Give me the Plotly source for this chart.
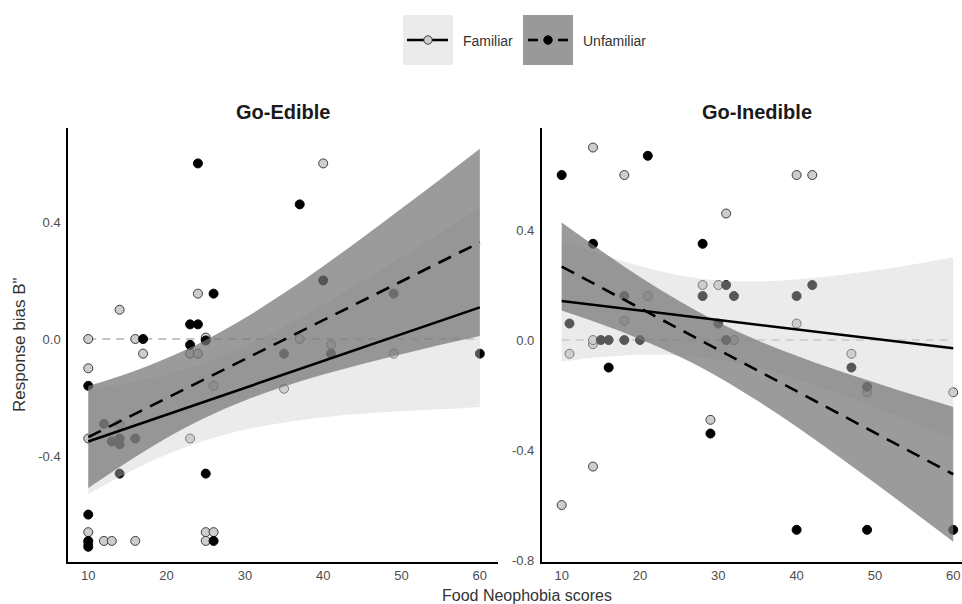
import plotly.graph_objects as go

# ---------------- data ----------------
# Go-Edible panel
edible_fam_x = [10, 16, 25, 14, 24, 17, 23, 24, 10, 26, 35, 14, 10, 23, 10, 10, 12, 13, 16, 25, 26, 25, 40, 37, 41, 49]
edible_fam_y = [0.0, 0.0, 0.005, 0.10, 0.155, -0.05, -0.05, -0.05, -0.10, -0.16, -0.17, -0.29, -0.34, -0.34,
                -0.66, -0.70, -0.69, -0.69, -0.69, -0.66, -0.66, -0.69, 0.60, 0.0, -0.02, -0.05]
edible_unf_x = [24, 37, 40, 26, 49, 23, 24, 17, 25, 23, 35, 41, 60, 10, 12, 13, 14, 14, 16, 14, 25, 10, 10, 10, 26]
edible_unf_y = [0.60, 0.46, 0.20, 0.155, 0.155, 0.05, 0.05, 0.0, -0.005, -0.02, -0.05, -0.05, -0.05, -0.16, -0.29,
                -0.35, -0.34, -0.36, -0.34, -0.46, -0.46, -0.60, -0.69, -0.71, -0.69]

# Go-Inedible panel
inedible_fam_x = [14, 18, 40, 42, 31, 28, 30, 21, 18, 40, 14, 14, 32, 11, 47, 49, 60, 29, 14, 10]
inedible_fam_y = [0.70, 0.60, 0.60, 0.60, 0.46, 0.20, 0.20, 0.16, 0.07, 0.06, -0.015, 0.0, 0.0, -0.05, -0.05,
                  -0.19, -0.19, -0.29, -0.46, -0.60]
inedible_unf_x = [10, 21, 14, 28, 31, 42, 28, 32, 18, 40, 11, 30, 15, 16, 18, 20, 31, 16, 47, 49, 29, 40, 49, 60]
inedible_unf_y = [0.60, 0.67, 0.35, 0.35, 0.20, 0.20, 0.16, 0.16, 0.16, 0.16, 0.06, 0.06, 0.0, 0.0, 0.0, 0.0, 0.0,
                  -0.10, -0.10, -0.17, -0.34, -0.69, -0.69, -0.69]

# fitted lines (end points)
fit_x = [10, 60]
edible_fam_fit = [-0.350, 0.108]
edible_unf_fit = [-0.335, 0.330]
inedible_fam_fit = [0.142, -0.030]
inedible_unf_fit = [0.267, -0.488]

# confidence ribbons (read at x = 10, 15, ..., 60)
band_x = [10, 15, 20, 25, 30, 35, 40, 45, 50, 55, 60]
edible_fam_lo = [-0.530, -0.458, -0.395, -0.346, -0.310, -0.285, -0.267, -0.255, -0.247, -0.240, -0.232]
edible_fam_hi = [-0.170, -0.150, -0.121, -0.080, -0.024, 0.043, 0.117, 0.197, 0.279, 0.364, 0.448]
edible_unf_lo = [-0.509, -0.420, -0.338, -0.268, -0.210, -0.162, -0.121, -0.085, -0.052, -0.020, 0.010]
edible_unf_hi = [-0.161, -0.118, -0.066, -0.003, 0.072, 0.157, 0.249, 0.346, 0.446, 0.547, 0.650]
inedible_fam_lo = [-0.078, -0.062, -0.053, -0.056, -0.071, -0.101, -0.142, -0.191, -0.245, -0.302, -0.360]
inedible_fam_hi = [0.362, 0.312, 0.269, 0.236, 0.217, 0.213, 0.220, 0.235, 0.253, 0.276, 0.300]
inedible_unf_lo = [0.107, 0.058, 0.003, -0.060, -0.134, -0.221, -0.315, -0.416, -0.520, -0.626, -0.733]
inedible_unf_hi = [0.427, 0.326, 0.229, 0.142, 0.065, -0.001, -0.057, -0.108, -0.154, -0.200, -0.243]

ref_x = [10, 60]
ref_y = [0, 0]

panel_titles = ["Go-Edible", "Go-Inedible"]
x_ticks = [10, 20, 30, 40, 50, 60]
y_ticks_left = [-0.4, 0.0, 0.4]
y_ticks_right = [-0.8, -0.4, 0.0, 0.4]
legend_labels = ["Familiar", "Unfamiliar"]

# ---------------- styles ----------------
FAM_PT = "#cdcdcd"
FAM_EDGE = "#3c3c3c"
UNF_PT = "#000000"
FAM_BAND = "rgba(207,207,207,0.42)"
UNF_BAND = "rgba(116,116,116,0.72)"
FONT = "Liberation Sans, Arial, sans-serif"

fig = go.Figure()

panels = [
    ("x", "y", edible_fam_x, edible_fam_y, edible_unf_x, edible_unf_y, edible_fam_fit, edible_unf_fit,
     edible_fam_lo, edible_fam_hi, edible_unf_lo, edible_unf_hi, 2.2),
    ("x2", "y2", inedible_fam_x, inedible_fam_y, inedible_unf_x, inedible_unf_y, inedible_fam_fit, inedible_unf_fit,
     inedible_fam_lo, inedible_fam_hi, inedible_unf_lo, inedible_unf_hi, 1.5),
]

for (xa, ya, fx, fy, ux, uy, ffit, ufit, flo, fhi, ulo, uhi, refw) in panels:
    fig.add_trace(go.Scatter(x=ref_x, y=ref_y, mode="lines", xaxis=xa, yaxis=ya,
                             line=dict(color="#c4c4c4", width=refw, dash="8px,6px"), hoverinfo="skip"))
    fig.add_trace(go.Scatter(x=fx, y=fy, mode="markers", xaxis=xa, yaxis=ya,
                             marker=dict(size=9, color=FAM_PT, line=dict(color=FAM_EDGE, width=1))))
    fig.add_trace(go.Scatter(x=ux, y=uy, mode="markers", xaxis=xa, yaxis=ya,
                             marker=dict(size=9, color=UNF_PT, line=dict(color="#000000", width=1))))
    # familiar ribbon
    fig.add_trace(go.Scatter(x=band_x, y=flo, mode="lines", xaxis=xa, yaxis=ya,
                             line=dict(width=0, shape="spline"), hoverinfo="skip"))
    fig.add_trace(go.Scatter(x=band_x, y=fhi, mode="lines", xaxis=xa, yaxis=ya, fill="tonexty",
                             fillcolor=FAM_BAND, line=dict(width=0, shape="spline"), hoverinfo="skip"))
    # unfamiliar ribbon
    fig.add_trace(go.Scatter(x=band_x, y=ulo, mode="lines", xaxis=xa, yaxis=ya,
                             line=dict(width=0, shape="spline"), hoverinfo="skip"))
    fig.add_trace(go.Scatter(x=band_x, y=uhi, mode="lines", xaxis=xa, yaxis=ya, fill="tonexty",
                             fillcolor=UNF_BAND, line=dict(width=0, shape="spline"), hoverinfo="skip"))
    # fitted lines
    fig.add_trace(go.Scatter(x=fit_x, y=ffit, mode="lines", xaxis=xa, yaxis=ya,
                             line=dict(color="black", width=2.6)))
    fig.add_trace(go.Scatter(x=fit_x, y=ufit, mode="lines", xaxis=xa, yaxis=ya,
                             line=dict(color="black", width=2.6, dash="14px,9px")))

axis_common = dict(showline=True, linecolor="black", linewidth=1.5, ticks="", showgrid=False,
                   zeroline=False, tickfont=dict(size=13, color="#4d4d4d", family=FONT))

W, H = 962, 604
ML, MR, MT, MB = 68, 0, 128, 42
PW, PH = W - ML - MR, H - MT - MB


def px(xp):
    return (xp - ML) / PW


def py(yp):
    return (H - MB - yp) / PH


fig.update_layout(
    width=W, height=H, margin=dict(l=ML, r=MR, t=MT, b=MB),
    plot_bgcolor="white", paper_bgcolor="white", showlegend=False,
    font=dict(family=FONT),
    xaxis=dict(domain=[0, px(498)], range=[7.41, 62.32], tickvals=x_ticks, anchor="y",
               ticklabelstandoff=1, **axis_common),
    yaxis=dict(domain=[0, 1], range=[-0.762, 0.721], tickvals=y_ticks_left,
               ticktext=["-0.4", "0.0", "0.4"], anchor="x", ticklabelstandoff=3, **axis_common),
    xaxis2=dict(domain=[px(541.7), 1], range=[7.45, 61.12], tickvals=x_ticks, anchor="y2",
                ticklabelstandoff=1, **axis_common),
    yaxis2=dict(domain=[0, 1], range=[-0.807, 0.771], tickvals=y_ticks_right,
                ticktext=["-0.8", "-0.4", "0.0", "0.4"], anchor="x2", ticklabelstandoff=3, **axis_common),
)

annotations = [
    dict(text="<b>%s</b>" % panel_titles[0], x=px(283), y=py(112), xref="paper", yref="paper",
         showarrow=False, font=dict(size=20, color="#1a1a1a"), xanchor="center", yanchor="middle"),
    dict(text="<b>%s</b>" % panel_titles[1], x=px(757), y=py(112), xref="paper", yref="paper",
         showarrow=False, font=dict(size=20, color="#1a1a1a"), xanchor="center", yanchor="middle"),
    dict(text='Response bias B"', x=px(19), y=py(345), xref="paper", yref="paper", textangle=-90,
         showarrow=False, font=dict(size=17, color="#333333"), xanchor="center", yanchor="middle"),
    dict(text="Food Neophobia scores", x=px(527), y=py(595), xref="paper", yref="paper",
         showarrow=False, font=dict(size=16, color="#333333"), xanchor="center", yanchor="middle"),
    dict(text=legend_labels[0], x=px(461), y=py(41), xref="paper", yref="paper",
         showarrow=False, font=dict(size=14, color="#333333"), xanchor="left", yanchor="middle"),
    dict(text=legend_labels[1], x=px(581), y=py(41), xref="paper", yref="paper",
         showarrow=False, font=dict(size=14, color="#333333"), xanchor="left", yanchor="middle"),
]
fig.update_layout(annotations=annotations)

r = 4.2
shapes = [
    # familiar legend key
    dict(type="rect", xref="paper", yref="paper", x0=px(403), x1=px(453), y0=py(65), y1=py(15),
         fillcolor="#ebebeb", line=dict(width=0), layer="above"),
    dict(type="line", xref="paper", yref="paper", x0=px(407), x1=px(448), y0=py(40), y1=py(40),
         line=dict(color="black", width=2.6), layer="above"),
    dict(type="circle", xref="paper", yref="paper", x0=px(428 - r), x1=px(428 + r), y0=py(40 + r), y1=py(40 - r),
         fillcolor=FAM_PT, line=dict(color=FAM_EDGE, width=1), layer="above"),
    # unfamiliar legend key
    dict(type="rect", xref="paper", yref="paper", x0=px(523), x1=px(573), y0=py(65), y1=py(15),
         fillcolor="#999999", line=dict(width=0), layer="above"),
    dict(type="line", xref="paper", yref="paper", x0=px(528), x1=px(538), y0=py(40), y1=py(40),
         line=dict(color="black", width=2.6), layer="above"),
    dict(type="line", xref="paper", yref="paper", x0=px(558), x1=px(568), y0=py(40), y1=py(40),
         line=dict(color="black", width=2.6), layer="above"),
    dict(type="circle", xref="paper", yref="paper", x0=px(548 - r), x1=px(548 + r), y0=py(40 + r), y1=py(40 - r),
         fillcolor="black", line=dict(color="black", width=1), layer="above"),
]
fig.update_layout(shapes=shapes)

fig.write_html("out.html")
